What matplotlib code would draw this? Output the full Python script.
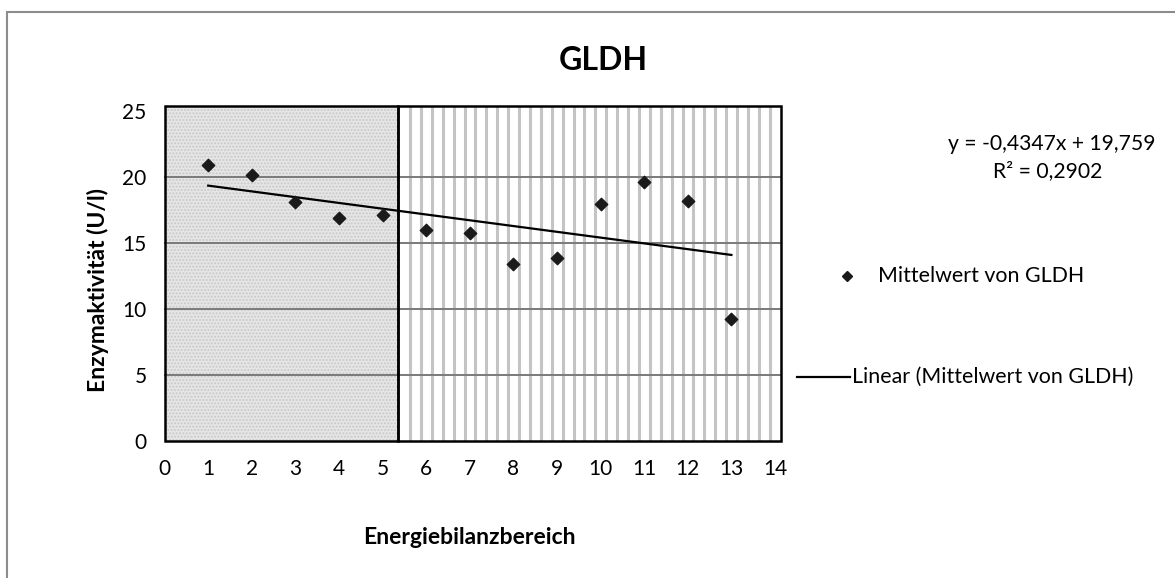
import numpy as np
import matplotlib
matplotlib.use("Agg")
import matplotlib.pyplot as plt
from matplotlib.patches import Rectangle
from matplotlib.lines import Line2D

plt.rcParams['font.family'] = ['Lato', 'DejaVu Sans']

bereich = [1, 2, 3, 4, 5, 6, 7, 8, 9, 10, 11, 12, 13]
gldh = [20.94, 20.15, 18.1, 16.92, 17.12, 16.02, 15.76, 13.44, 13.86, 17.98, 19.6, 18.21, 9.27]
xticks = list(range(0, 15))
yticks = [0, 5, 10, 15, 20, 25]
grenze = 5.35  # boundary between the two shaded zones
gleichung = "y = -0,4347x + 19,759"
r2 = "R² = 0,2902"
lab_punkte = 'Mittelwert von GLDH'
lab_trend = 'Linear (Mittelwert von GLDH)'

W, H = 1175, 578
fig = plt.figure(figsize=(W / 100, H / 100), dpi=100)
ax = fig.add_axes([164.6 / W, 0.237, 610.4 / W, 0.571])

# outer chart border (right/bottom edges fall outside the image)
fig.patches.append(Rectangle((7 / W, -0.1), 1.1, 1.1 - 12 / H, transform=fig.transFigure,
                             fill=False, edgecolor='#8c8c8c', lw=1.5))

xmax_box = 14.13
ytop_box = 25.35

# left zone: fine dotted gray
ax.add_patch(Rectangle((0, 0), grenze, ytop_box, facecolor='#e6e6e6', edgecolor='#c8c8c8',
                       hatch='.....', lw=0, zorder=0, clip_on=False))
# right zone: vertical stripes
ax.add_patch(Rectangle((grenze, 0), xmax_box - grenze, ytop_box, facecolor='white', lw=0,
                       zorder=0, clip_on=False))
stripes = np.arange(grenze + 0.28, xmax_box, 0.25)
ax.vlines(stripes, 0, ytop_box, colors='#c4c4c4', lw=2.2, zorder=0.5, clip_on=False)

# grid lines
for yv in yticks[1:-1]:
    ax.plot([0, xmax_box], [yv, yv], color='#7a7a7a', lw=1.4, zorder=1, clip_on=False)

# borders of the zones
for x0, w in [(0, grenze), (grenze, xmax_box - grenze)]:
    ax.add_patch(Rectangle((x0, 0), w, ytop_box, fill=False, edgecolor='black', lw=1.8,
                           zorder=2, clip_on=False))

# data + trend
ax.scatter(bereich, gldh, marker='D', s=40, color='#1a1a1a', zorder=4)
k, d = np.polyfit(bereich, gldh, 1)
xs = np.array([bereich[0], bereich[-1]])
ax.plot(xs, k * xs + d, color='black', lw=1.6, zorder=3)

ax.set_xlim(0, 14)
ax.set_ylim(0, 25)
ax.set_xticks(xticks)
ax.set_yticks(yticks)
ax.tick_params(length=0, labelsize=15, pad=13)
for s in ax.spines.values():
    s.set_visible(False)

ax.set_xlabel('Energiebilanzbereich', fontsize=16.5, fontweight='bold', va='center')
ax.xaxis.set_label_coords(0.5, -(537 - 441) / 330)
ax.set_ylabel('Enzymaktivität (U/l)', fontsize=16.5, fontweight='bold', va='center')
ax.yaxis.set_label_coords((98 - 164.6) / 610.4, (441 - 290) / 330)
fig.text(603 / W, 1 - 60 / H, 'GLDH', ha='center', va='center', fontsize=23, fontweight='bold')

fig.text(1052 / W, 1 - 144 / H, gleichung, ha='center', va='center', fontsize=15.2)
fig.text(1048 / W, 1 - 171 / H, r2, ha='center', va='center', fontsize=15.2)

# legend drawn like the spreadsheet one
fig.lines.append(Line2D([847 / W], [1 - 276 / H], transform=fig.transFigure, marker='D',
                        markersize=5, color='#1a1a1a', linestyle='none'))
fig.text(878 / W, 1 - 276 / H, lab_punkte, ha='left', va='center', fontsize=15.4)
fig.lines.append(Line2D([797 / W, 850 / W], [1 - 377 / H] * 2, transform=fig.transFigure,
                        color='black', lw=1.6))
fig.text(852 / W, 1 - 377 / H, lab_trend, ha='left', va='center', fontsize=15.4)

fig.savefig('out.png', dpi=100)
